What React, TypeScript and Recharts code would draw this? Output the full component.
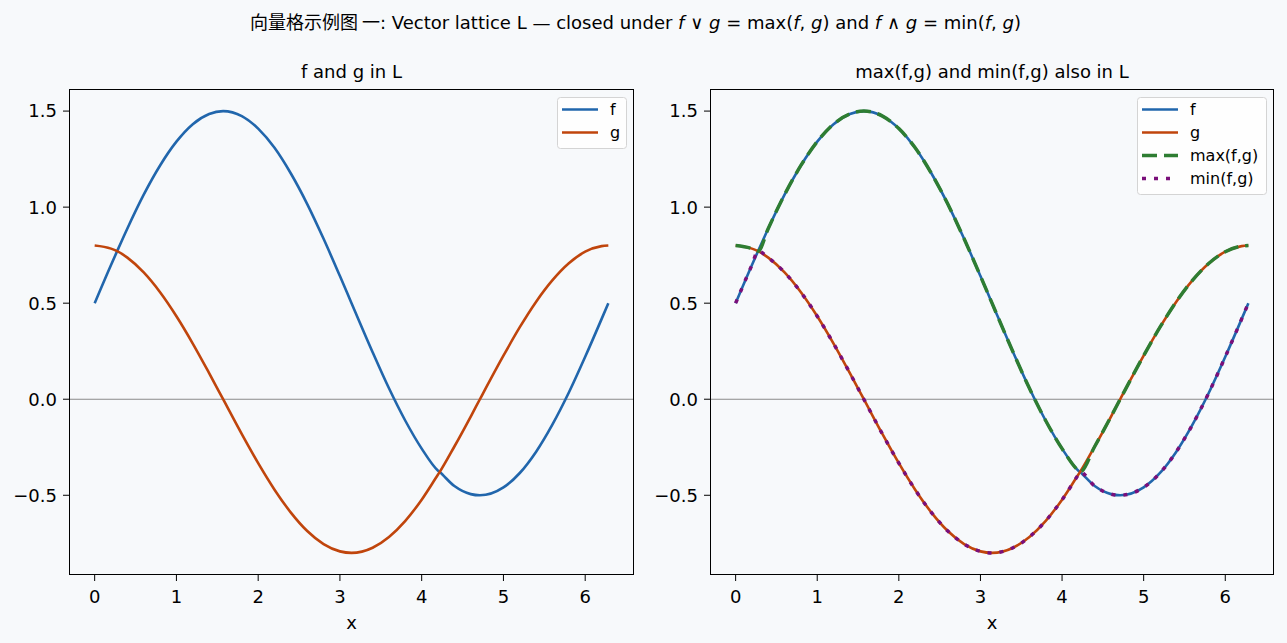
import { Line, LineChart, ReferenceLine, XAxis, YAxis } from 'recharts'

const xs = [0, 0.2, 0.275, 0.4, 0.6, 0.8, 1.0, 1.2, 1.4, 1.571, 1.8, 2.0, 2.2, 2.4, 2.6, 2.8, 3.0, 3.142, 3.4, 3.6, 3.8, 4.0, 4.2, 4.22, 4.4, 4.6, 4.712, 5.0, 5.2, 5.4, 5.6, 5.8, 6.0, 6.2, 6.283]
const fVals = [0.5, 0.699, 0.771, 0.889, 1.065, 1.217, 1.341, 1.432, 1.485, 1.5, 1.474, 1.409, 1.309, 1.175, 1.016, 0.835, 0.641, 0.5, 0.245, 0.057, -0.112, -0.257, -0.372, -0.379, -0.452, -0.494, -0.5, -0.459, -0.384, -0.273, -0.131, 0.035, 0.221, 0.417, 0.5]
const gVals = [0.8, 0.784, 0.771, 0.737, 0.66, 0.557, 0.432, 0.29, 0.136, 0.0, -0.182, -0.333, -0.471, -0.59, -0.686, -0.754, -0.792, -0.8, -0.773, -0.717, -0.633, -0.523, -0.392, -0.379, -0.246, -0.09, 0.0, 0.227, 0.375, 0.508, 0.62, 0.708, 0.768, 0.797, 0.8]
const maxVals = [0.8, 0.784, 0.771, 0.889, 1.065, 1.217, 1.341, 1.432, 1.485, 1.5, 1.474, 1.409, 1.309, 1.175, 1.016, 0.835, 0.641, 0.5, 0.245, 0.057, -0.112, -0.257, -0.372, -0.379, -0.246, -0.09, 0.0, 0.227, 0.375, 0.508, 0.62, 0.708, 0.768, 0.797, 0.8]
const minVals = [0.5, 0.699, 0.771, 0.737, 0.66, 0.557, 0.432, 0.29, 0.136, 0.0, -0.182, -0.333, -0.471, -0.59, -0.686, -0.754, -0.792, -0.8, -0.773, -0.717, -0.633, -0.523, -0.392, -0.379, -0.452, -0.494, -0.5, -0.459, -0.384, -0.273, -0.131, 0.035, 0.221, 0.417, 0.5]

const xTicks = [0, 1, 2, 3, 4, 5, 6]
const yTicks = [-0.5, 0, 0.5, 1, 1.5]

const data = xs.map((x, i) => ({ x, f: fVals[i], g: gVals[i], mx: maxVals[i], mn: minVals[i] }))

const FONT = '"DejaVu Sans", sans-serif'
const BG = '#f7f9fb'
const BLUE = '#2166ac'
const ORANGE = '#c0450c'
const GREEN = '#2e7d32'
const PURPLE = '#7a0f7a'

type SeriesDef = { key: string; label: string; color: string; width: number; dash?: string }

const leftSeries: SeriesDef[] = [
  { key: 'f', label: 'f', color: BLUE, width: 2.6 },
  { key: 'g', label: 'g', color: ORANGE, width: 2.6 },
]
const rightSeries: SeriesDef[] = [
  ...leftSeries,
  { key: 'mx', label: 'max(f,g)', color: GREEN, width: 3.5, dash: '15 7' },
  { key: 'mn', label: 'min(f,g)', color: PURPLE, width: 3.5, dash: '4 8' },
]

function fmtY(v: number): string {
  return v.toFixed(1).replace('-', '\u2212')
}

function Panel({ left, width, right, series }: { left: number; width: number; right: number; series: SeriesDef[] }) {
  const tick = { fill: '#000', fontSize: 18, fontFamily: FONT }
  return (
    <div style={{ position: 'absolute', left, top: 0 }}>
      <LineChart width={width} height={643} data={data} margin={{ top: 89, right, bottom: 23, left: 0 }}>
        <XAxis
          type="number"
          dataKey="x"
          domain={[-0.314, 6.597]}
          ticks={xTicks}
          interval={0}
          allowDataOverflow
          axisLine={false}
          tickLine={{ stroke: '#000' }}
          tickSize={6}
          tickMargin={9}
          height={45}
          tick={tick}
        />
        <YAxis
          type="number"
          domain={[-0.915, 1.615]}
          ticks={yTicks}
          interval={0}
          allowDataOverflow
          axisLine={false}
          tickLine={{ stroke: '#000' }}
          tickSize={6}
          tickMargin={6}
          width={69}
          tick={tick}
          tickFormatter={fmtY}
        />
        <ReferenceLine y={0} stroke="#8a8a8a" strokeWidth={1.2} />
        {series.map((s) => (
          <Line
            key={s.key}
            dataKey={s.key}
            type="monotone"
            stroke={s.color}
            strokeWidth={s.width}
            strokeDasharray={s.dash}
            dot={false}
            activeDot={false}
            isAnimationActive={false}
          />
        ))}
      </LineChart>
    </div>
  )
}

function LegendBox({ x, y, w, series }: { x: number; y: number; w: number; series: SeriesDef[] }) {
  const rowH = 23
  const h = series.length * rowH + 5
  return (
    <g>
      <rect x={x + 0.5} y={y + 0.5} width={w} height={h} rx={3} fill="#ffffff" fillOpacity={0.8} stroke="#d4d4d4" />
      {series.map((s, i) => {
        const base = y + 18 + i * rowH
        return (
          <g key={s.key}>
            <line x1={x + 5} x2={x + 41} y1={base - 5.5} y2={base - 5.5} stroke={s.color} strokeWidth={s.width} strokeDasharray={s.dash} />
            <text x={x + 53} y={base} fontSize={16} fontFamily={FONT} fill="#000">
              {s.label}
            </text>
          </g>
        )
      })}
    </g>
  )
}

export default function App() {
  return (
    <div style={{ position: 'fixed', left: 0, top: 0, width: 1287, height: 643, background: BG, overflow: 'hidden' }}>
      <Panel left={0} width={650} right={16} series={leftSeries} />
      <Panel left={641} width={646} right={13} series={rightSeries} />
      <svg width={1287} height={643} style={{ position: 'absolute', left: 0, top: 0, pointerEvents: 'none' }}>
        <text x={1021} y={29} textAnchor="end" fontSize={18} fontFamily={FONT} fill="#000">
          <tspan fontFamily='"Noto Sans CJK SC", sans-serif'>向量格示例图 一</tspan>
          <tspan>: Vector lattice L — closed under </tspan>
          <tspan fontStyle="italic">f</tspan>
          <tspan> ∨ </tspan>
          <tspan fontStyle="italic">g</tspan>
          <tspan> = max(</tspan>
          <tspan fontStyle="italic">f</tspan>
          <tspan>, </tspan>
          <tspan fontStyle="italic">g</tspan>
          <tspan>) and </tspan>
          <tspan fontStyle="italic">f</tspan>
          <tspan> ∧ </tspan>
          <tspan fontStyle="italic">g</tspan>
          <tspan> = min(</tspan>
          <tspan fontStyle="italic">f</tspan>
          <tspan>, </tspan>
          <tspan fontStyle="italic">g</tspan>
          <tspan>)</tspan>
        </text>
        <text x={351.5} y={78} textAnchor="middle" fontSize={18} fontFamily={FONT} fill="#000">f and g in L</text>
        <text x={992} y={78} textAnchor="middle" fontSize={18} fontFamily={FONT} fill="#000">max(f,g) and min(f,g) also in L</text>
        <text x={351.5} y={629} textAnchor="middle" fontSize={18} fontFamily={FONT} fill="#000">x</text>
        <text x={992} y={629} textAnchor="middle" fontSize={18} fontFamily={FONT} fill="#000">x</text>
        <rect x={69.5} y={89.5} width={564} height={485} fill="none" stroke="#000" strokeWidth={1} />
        <rect x={710.5} y={89.5} width={563} height={485} fill="none" stroke="#000" strokeWidth={1} />
        <LegendBox x={557} y={97} w={69} series={leftSeries} />
        <LegendBox x={1137} y={97} w={129} series={rightSeries} />
      </svg>
    </div>
  )
}
